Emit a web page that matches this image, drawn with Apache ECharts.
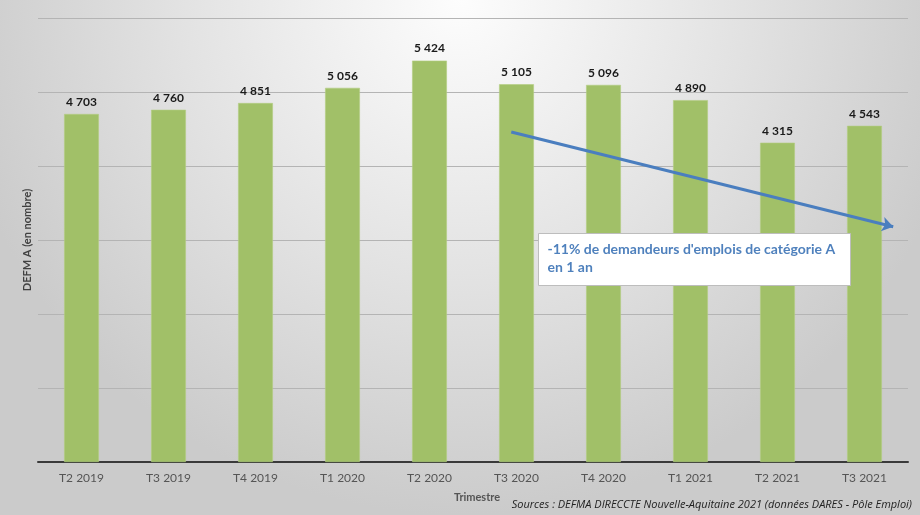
<!DOCTYPE html>
<html><head><meta charset="utf-8">
<script src="https://cdn.jsdelivr.net/npm/echarts@6/dist/echarts.min.js"></script>
<style>html,body{margin:0;padding:0;background:#fff;}#c{width:920px;height:515px;}</style>
</head><body><div id="c"></div>
<script>
var categories = ['T2 2019','T3 2019','T4 2019','T1 2020','T2 2020','T3 2020','T4 2020','T1 2021','T2 2021','T3 2021'];
var defmA = [4703,4760,4851,5056,5424,5105,5096,4890,4315,4543];
var arrowFrom = [4.94, 4460];
var arrowTo = [9.33, 3180];
var noteLines = ["-11% de demandeurs d'emplois de catégorie A", 'en 1 an'];
var sourceText = 'Sources : DEFMA DIRECCTE Nouvelle-Aquitaine 2021 (données DARES - Pôle Emploi)';

function fmt(v){return String(v).replace(/\B(?=(\d{3})+(?!\d))/g,' ');}
var chart = echarts.init(document.getElementById('c'));
var FONT = 'Lato, "Open Sans", sans-serif';
chart.setOption({
  backgroundColor: new echarts.graphic.RadialGradient(0.5, 0.0, 1.0, [
    {offset:0, color:'#fdfdfd'},{offset:0.55, color:'#e2e2e2'},{offset:1, color:'#cbcbcb'}]),
  animation:false,
  grid:{left:38, right:12, top:18, bottom:53, containLabel:false},
  xAxis:[{type:'category', data:categories,
    axisLine:{lineStyle:{color:'#3a3a3a', width:2}}, axisTick:{show:false},
    axisLabel:{color:'#555', fontSize:12, fontFamily:FONT, margin:10},
    name:'Trimestre', nameLocation:'middle', nameGap:30,
    nameTextStyle:{color:'#555', fontSize:11, fontWeight:'bold', fontFamily:FONT, padding:[0,0,0,8]}},
   {type:'value', min:-0.5, max:9.5, show:false}],
  yAxis:{type:'value', min:0, max:6000, interval:1000,
    axisLabel:{show:false}, axisLine:{show:false}, axisTick:{show:false},
    splitLine:{lineStyle:{color:'#b4b4b4', width:1}},
    name:'DEFM A (en nombre)', nameLocation:'middle', nameGap:5,
    nameTextStyle:{color:'#404040', fontSize:11, fontWeight:'bold', fontFamily:FONT}},
  series:[{type:'bar', data:defmA, barWidth:'40%',
    itemStyle:{color:'#a1c068', borderColor:'#b3cd82', borderWidth:0.6},
    label:{show:true, position:'top', distance:6, color:'#1a1a1a', fontSize:12, fontWeight:'bold', fontFamily:FONT, formatter:function(p){return fmt(p.value);}}},
   {type:'line', xAxisIndex:1, data:[], silent:true, z:5,
    markLine:{silent:true, symbol:['none','arrow'], symbolSize:[11,11],
      lineStyle:{color:'#4a7ebf', width:3, type:'solid'}, label:{show:false},
      data:[[{coord:arrowFrom},{coord:arrowTo}]]}}
  ],
  graphic:[
    {type:'group', left:538, top:233, z:100, children:[
      {type:'rect', z:100, shape:{x:0,y:0,width:312,height:52}, style:{fill:'#ffffff', stroke:'#bdbdbd', lineWidth:1}},
      {type:'text', z:101, left:9, top:7, style:{text:noteLines.join('\n'), fill:'#4f81bd', fontSize:14, fontWeight:'bold', fontFamily:FONT, lineHeight:18}}
    ]},
    {type:'text', right:8, top:499, z:100, style:{text:sourceText, fill:'#222', fontSize:11, fontStyle:'italic', fontFamily:'"Open Sans", sans-serif'}}
  ]
});
</script></body></html>
